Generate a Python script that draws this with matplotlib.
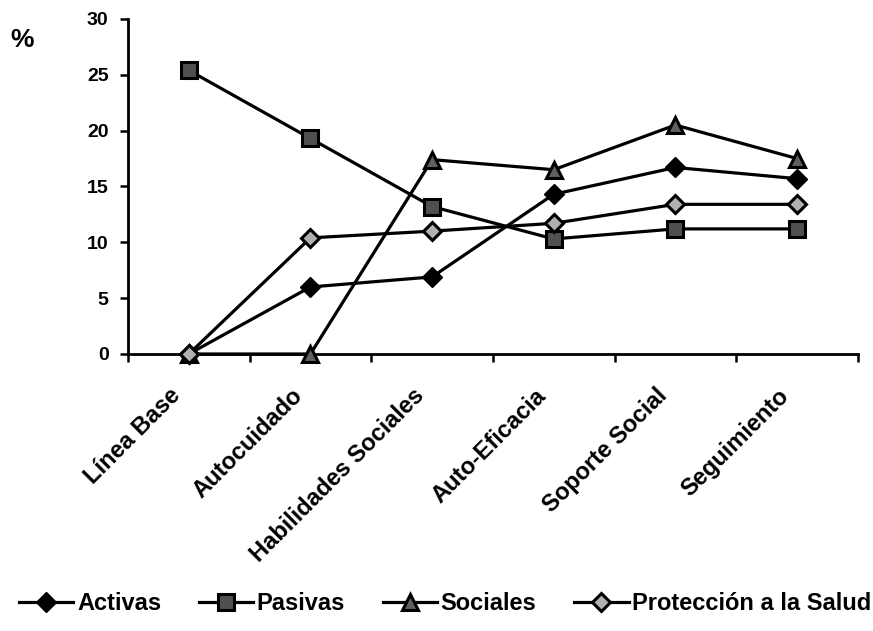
import matplotlib
matplotlib.use("Agg")
import matplotlib.pyplot as plt
import matplotlib.transforms as mtransforms

categories = ["Línea Base", "Autocuidado", "Habilidades Sociales",
              "Auto-Eficacia", "Soporte Social", "Seguimiento"]
activas = [0, 6.0, 6.9, 14.3, 16.7, 15.7]
pasivas = [25.4, 19.3, 13.2, 10.3, 11.2, 11.2]
sociales = [0, 0, 17.4, 16.5, 20.5, 17.5]
proteccion = [0, 10.4, 11.0, 11.7, 13.4, 13.4]
yticks = [0, 5, 10, 15, 20, 25, 30]

plt.rcParams['font.family'] = ['Liberation Sans', 'DejaVu Sans']
plt.rcParams['font.weight'] = 'bold'

fig = plt.figure(figsize=(8.73, 6.31), dpi=100)
ax = fig.add_axes([0.1466, 0.439, 0.836, 0.531])

x = [i + 0.5 for i in range(len(categories))]
lw = 2.3
ax.plot(x, activas, color='black', lw=lw, marker='D', ms=10,
        mfc='black', mec='black', label='Activas', zorder=3, clip_on=False)
ax.plot(x, pasivas, color='black', lw=lw, marker='s', ms=11,
        mfc='#505050', mec='black', mew=2.2, label='Pasivas', zorder=3, clip_on=False)
ax.plot(x, sociales, color='black', lw=lw, marker='^', ms=12,
        mfc='#606060', mec='black', mew=2.2, label='Sociales', zorder=3, clip_on=False)
ax.plot(x, proteccion, color='black', lw=lw, marker='D', ms=9.5,
        mfc='#b0b0b0', mec='black', mew=2.2, label='Protección a la Salud',
        zorder=3, clip_on=False)

ax.set_xlim(0, len(categories))
ax.set_ylim(0, 30)
ax.set_yticks(yticks)
ax.set_yticklabels([str(v) for v in yticks], fontsize=14, fontweight='bold')

# Category boundaries carry the tick marks; names sit between them
ax.set_xticks(range(0, len(categories) + 1))
ax.set_xticklabels([])
ax.tick_params(axis='x', length=6, width=1.8, direction='out')
ax.tick_params(axis='y', length=6, width=1.8, direction='out', pad=8)

shift = mtransforms.ScaledTranslation(-7 / 100, -43 / 100, fig.dpi_scale_trans)
label_tr = mtransforms.blended_transform_factory(ax.transData, ax.transAxes) + shift
for xi, name in zip(x, categories):
    ax.text(xi, 0, name, transform=label_tr, rotation=45, ha='right',
            va='baseline', rotation_mode='anchor', fontsize=17,
            fontweight='bold', clip_on=False)

for s in ['top', 'right']:
    ax.spines[s].set_visible(False)
ax.spines['left'].set_linewidth(2.0)
ax.spines['bottom'].set_linewidth(2.0)

fig.text(0.012, 0.925, '%', fontsize=19, fontweight='bold')

fig.legend(loc='center', bbox_to_anchor=(0.51, 0.043), ncol=4, frameon=False,
           prop={'size': 17, 'weight': 'bold'}, handlelength=2.3,
           handletextpad=0.15, columnspacing=1.6)

fig.savefig("out.png", dpi=100)
